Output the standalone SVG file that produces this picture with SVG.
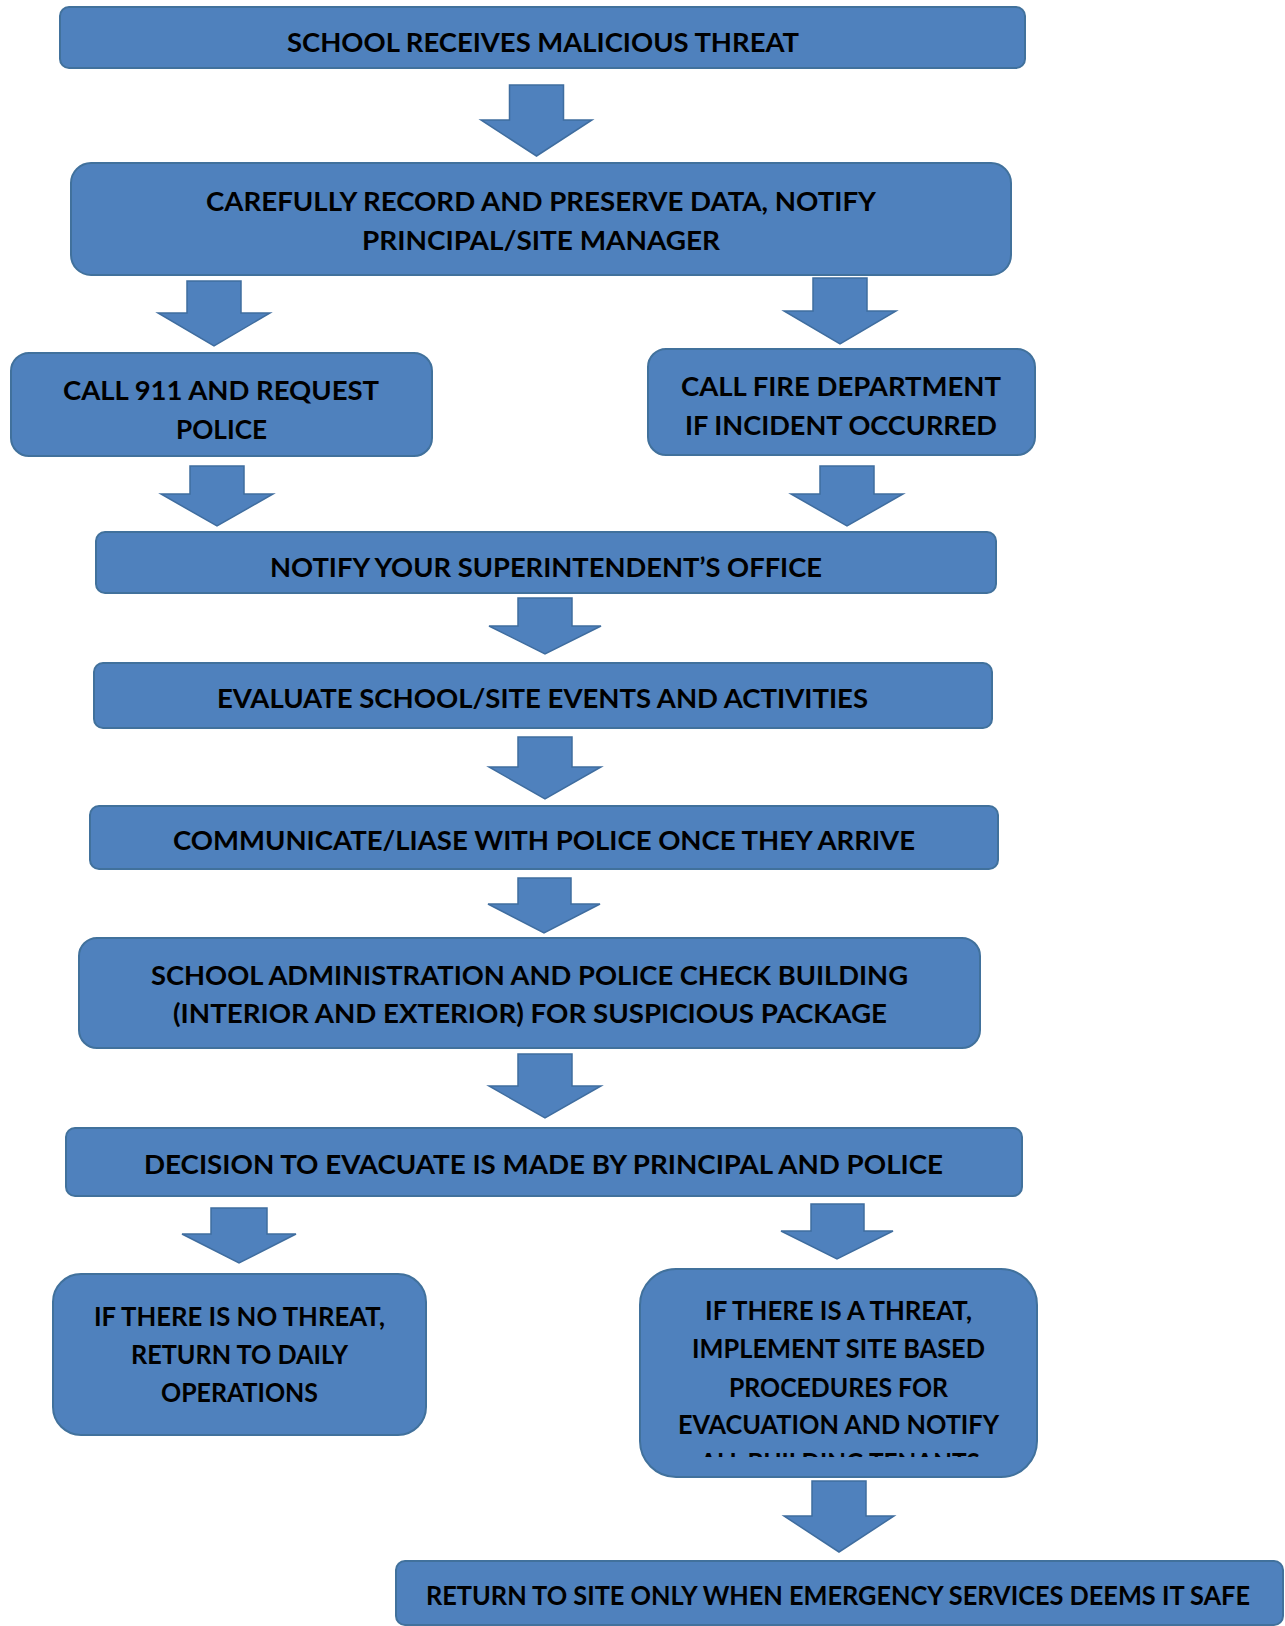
<svg xmlns="http://www.w3.org/2000/svg" width="1285" height="1626" viewBox="0 0 1285 1626">
<style>
.box{fill:#4F81BD;stroke:#41719C;stroke-width:2}
.arr{fill:#4F81BD;stroke:#3F6D9F;stroke-width:1.5;stroke-linejoin:miter}
text{font-family:Lato,"Liberation Sans",sans-serif;font-weight:bold;font-size:27px;fill:#000;text-anchor:middle}
</style>
<defs>
<clipPath id="clipThreat"><rect x="640" y="1440" width="397" height="17"/></clipPath>
</defs>
<rect width="1285" height="1626" fill="#fff"/>
<g id="connectors">
<polygon class="arr" points="509.5,85 563.5,85 563.5,120 592,120 536.5,156 481,120 509.5,120"/>
<polygon class="arr" points="187,281 241,281 241,313 270,313 214,346 158,313 187,313"/>
<polygon class="arr" points="813,278 867,278 867,311 896,311 840,344 784,311 813,311"/>
<polygon class="arr" points="190,466 244,466 244,494 273,494 217,526 161,494 190,494"/>
<polygon class="arr" points="820,466 874,466 874,494 903,494 847,526 791,494 820,494"/>
<polygon class="arr" points="518,598 572,598 572,626 601,626 545,654 489,626 518,626"/>
<polygon class="arr" points="518,737 572,737 572,767 601,767 545,799 489,767 518,767"/>
<polygon class="arr" points="518,878 571,878 571,904 600,904 544,933 488,904 518,904"/>
<polygon class="arr" points="518,1054 572,1054 572,1086 601,1086 545,1118 489,1086 518,1086"/>
<polygon class="arr" points="211,1208 267,1208 267,1234 296,1234 239,1263 182,1234 211,1234"/>
<polygon class="arr" points="811,1204 864,1204 864,1231 893,1231 837,1259 781,1231 811,1231"/>
<polygon class="arr" points="812,1481 866,1481 866,1516 894,1516 839,1552 784,1516 812,1516"/>
</g>
<g id="n1"><rect class="box" x="60" y="7" width="965" height="61" rx="9"/>
<text x="543" y="52" textLength="512" lengthAdjust="spacingAndGlyphs">SCHOOL RECEIVES MALICIOUS THREAT</text></g>
<g id="n2"><rect class="box" x="71" y="163" width="940" height="112" rx="20"/>
<text x="541" y="211" textLength="670" lengthAdjust="spacingAndGlyphs">CAREFULLY RECORD AND PRESERVE DATA, NOTIFY</text>
<text x="541" y="250" textLength="358" lengthAdjust="spacingAndGlyphs">PRINCIPAL/SITE MANAGER</text></g>
<g id="n3"><rect class="box" x="11" y="353" width="421" height="103" rx="18"/>
<text x="221" y="400" textLength="316" lengthAdjust="spacingAndGlyphs">CALL 911 AND REQUEST</text>
<text x="221.5" y="439" textLength="91" lengthAdjust="spacingAndGlyphs">POLICE</text></g>
<g id="n4"><rect class="box" x="648" y="349" width="387" height="106" rx="18"/>
<text x="841" y="396" textLength="320" lengthAdjust="spacingAndGlyphs">CALL FIRE DEPARTMENT</text>
<text x="841" y="435" textLength="312" lengthAdjust="spacingAndGlyphs">IF INCIDENT OCCURRED</text></g>
<g id="n5"><rect class="box" x="96" y="532" width="900" height="61" rx="9"/>
<text x="546" y="577" textLength="552" lengthAdjust="spacingAndGlyphs">NOTIFY YOUR SUPERINTENDENT’S OFFICE</text></g>
<g id="n6"><rect class="box" x="94" y="663" width="898" height="65" rx="9"/>
<text x="542.5" y="708" textLength="651" lengthAdjust="spacingAndGlyphs">EVALUATE SCHOOL/SITE EVENTS AND ACTIVITIES</text></g>
<g id="n7"><rect class="box" x="90" y="806" width="908" height="63" rx="9"/>
<text x="544" y="850" textLength="742" lengthAdjust="spacingAndGlyphs">COMMUNICATE/LIASE WITH POLICE ONCE THEY ARRIVE</text></g>
<g id="n8"><rect class="box" x="79" y="938" width="901" height="110" rx="18"/>
<text x="529.5" y="985" textLength="757" lengthAdjust="spacingAndGlyphs">SCHOOL ADMINISTRATION AND POLICE CHECK BUILDING</text>
<text x="530" y="1023" textLength="714" lengthAdjust="spacingAndGlyphs">(INTERIOR AND EXTERIOR) FOR SUSPICIOUS PACKAGE</text></g>
<g id="n9"><rect class="box" x="66" y="1128" width="956" height="68" rx="9"/>
<text x="543.5" y="1174" textLength="799" lengthAdjust="spacingAndGlyphs">DECISION TO EVACUATE IS MADE BY PRINCIPAL AND POLICE</text></g>
<g id="n10"><rect class="box" x="53" y="1274" width="373" height="161" rx="28"/>
<text x="239.5" y="1326" textLength="291" lengthAdjust="spacingAndGlyphs">IF THERE IS NO THREAT,</text>
<text x="239.5" y="1364" textLength="217" lengthAdjust="spacingAndGlyphs">RETURN TO DAILY</text>
<text x="239.5" y="1402" textLength="157" lengthAdjust="spacingAndGlyphs">OPERATIONS</text></g>
<g id="n11"><rect class="box" x="640" y="1269" width="397" height="208" rx="36"/>
<text x="838.5" y="1320" textLength="267" lengthAdjust="spacingAndGlyphs">IF THERE IS A THREAT,</text>
<text x="838.5" y="1358" textLength="293" lengthAdjust="spacingAndGlyphs">IMPLEMENT SITE BASED</text>
<text x="838.5" y="1397" textLength="219" lengthAdjust="spacingAndGlyphs">PROCEDURES FOR</text>
<text x="838.5" y="1434" textLength="321" lengthAdjust="spacingAndGlyphs">EVACUATION AND NOTIFY</text>
<text x="840" y="1472" textLength="280" lengthAdjust="spacingAndGlyphs" clip-path="url(#clipThreat)">ALL BUILDING TENANTS</text></g>
<g id="n12"><rect class="box" x="396" y="1561" width="887" height="64" rx="9"/>
<text x="838" y="1605" textLength="824" lengthAdjust="spacingAndGlyphs">RETURN TO SITE ONLY WHEN EMERGENCY SERVICES DEEMS IT SAFE</text></g>
</svg>
